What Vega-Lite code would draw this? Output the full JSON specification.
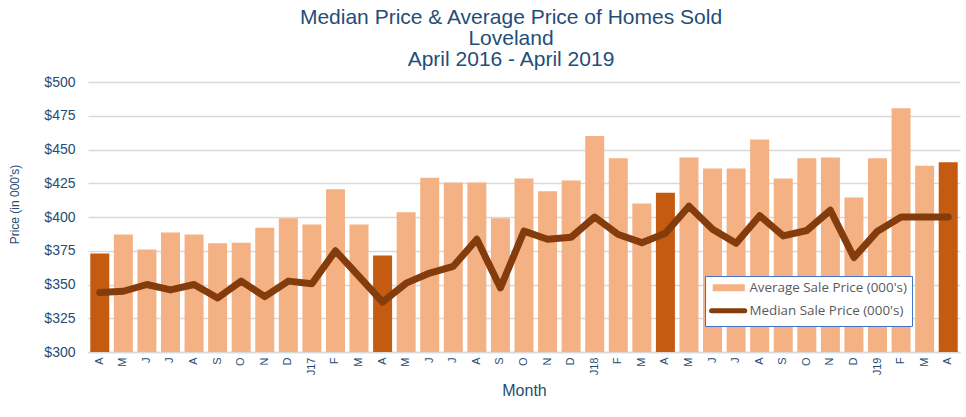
{
  "$schema": "https://vega.github.io/schema/vega-lite/v6.json",
  "width": 872,
  "height": 270,
  "autosize": {"type": "none"},
  "padding": {"left": 88, "top": 82, "right": 6, "bottom": 65},
  "background": "white",
  "title": {
    "text": ["Median Price & Average Price of Homes Sold", "Loveland", "April 2016 - April 2019"],
    "font": "Liberation Sans",
    "fontSize": 21,
    "lineHeight": 21,
    "fontWeight": "normal",
    "color": "#1F4E79",
    "anchor": "middle",
    "dx": -13,
    "offset": 5
  },
  "config": {
    "view": {"stroke": null},
    "axis": {"labelFont": "Liberation Sans", "titleFont": "Liberation Sans", "labelColor": "#264C73", "titleColor": "#264C73"}
  },
  "data": {
    "values": [
      {"key": "01|A", "avg": 373, "median": 344, "hl": true},
      {"key": "02|M", "avg": 387, "median": 345, "hl": false},
      {"key": "03|J", "avg": 376, "median": 350, "hl": false},
      {"key": "04|J", "avg": 388.5, "median": 346, "hl": false},
      {"key": "05|A", "avg": 387, "median": 350, "hl": false},
      {"key": "06|S", "avg": 380.5, "median": 340, "hl": false},
      {"key": "07|O", "avg": 381, "median": 352.5, "hl": false},
      {"key": "08|N", "avg": 392, "median": 341, "hl": false},
      {"key": "09|D", "avg": 399, "median": 352.5, "hl": false},
      {"key": "10|J17", "avg": 394.5, "median": 350.5, "hl": false},
      {"key": "11|F", "avg": 420.5, "median": 375, "hl": false},
      {"key": "12|M", "avg": 394.5, "median": 356, "hl": false},
      {"key": "13|A", "avg": 371.5, "median": 337, "hl": true},
      {"key": "14|M", "avg": 403.5, "median": 351, "hl": false},
      {"key": "15|J", "avg": 429, "median": 358.5, "hl": false},
      {"key": "16|J", "avg": 425.5, "median": 363.5, "hl": false},
      {"key": "17|A", "avg": 425.5, "median": 383.5, "hl": false},
      {"key": "18|S", "avg": 399, "median": 347.5, "hl": false},
      {"key": "19|O", "avg": 428.5, "median": 389.5, "hl": false},
      {"key": "20|N", "avg": 419, "median": 383.5, "hl": false},
      {"key": "21|D", "avg": 427, "median": 385, "hl": false},
      {"key": "22|J18", "avg": 460, "median": 400, "hl": false},
      {"key": "23|F", "avg": 443.5, "median": 387, "hl": false},
      {"key": "24|M", "avg": 410, "median": 381, "hl": false},
      {"key": "25|A", "avg": 418, "median": 388, "hl": true},
      {"key": "26|M", "avg": 444, "median": 408, "hl": false},
      {"key": "27|J", "avg": 436, "median": 391, "hl": false},
      {"key": "28|J", "avg": 436, "median": 380.5, "hl": false},
      {"key": "29|A", "avg": 457.5, "median": 401, "hl": false},
      {"key": "30|S", "avg": 428.5, "median": 386, "hl": false},
      {"key": "31|O", "avg": 443.5, "median": 390, "hl": false},
      {"key": "32|N", "avg": 444, "median": 405, "hl": false},
      {"key": "33|D", "avg": 414.5, "median": 370, "hl": false},
      {"key": "34|J19", "avg": 443.5, "median": 389.5, "hl": false},
      {"key": "35|F", "avg": 480.5, "median": 400, "hl": false},
      {"key": "36|M", "avg": 438, "median": 400, "hl": false},
      {"key": "37|A", "avg": 440.5, "median": 400, "hl": true}
    ]
  },
  "encoding": {
    "x": {
      "field": "key",
      "type": "ordinal",
      "sort": null,
      "scale": {"paddingInner": 0.194, "paddingOuter": 0.097},
      "axis": {
        "title": "Month",
        "labelExpr": "split(datum.value, '|')[1]",
        "labelAngle": -90,
        "labelFontSize": 11,
        "labelPadding": 5,
        "ticks": false,
        "domainColor": "#D9D9D9",
        "domainWidth": 1.5,
        "titleFontSize": 16,
        "titleFontWeight": "normal",
        "titlePadding": 8
      }
    }
  },
  "layer": [
    {
      "mark": {"type": "bar"},
      "encoding": {
        "y": {
          "field": "avg",
          "type": "quantitative",
          "scale": {"domain": [300, 500], "nice": false, "zero": false},
          "axis": {
            "title": "Price (in 000's)",
            "values": [300, 325, 350, 375, 400, 425, 450, 475, 500],
            "labelExpr": "'$' + datum.value",
            "labelFontSize": 14,
            "labelPadding": 13,
            "labelOverlap": false,
            "domain": false,
            "ticks": false,
            "gridColor": "#D9D9D9",
            "gridWidth": 1.5,
            "titleFontSize": 12,
            "titleFontWeight": "normal",
            "titlePadding": 22,
            "titleY": 122
          }
        },
        "y2": {"datum": 300},
        "color": {
          "condition": {"test": "datum.hl", "value": "#C55A11"},
          "datum": "Average Sale Price (000's)",
          "scale": {"domain": ["Average Sale Price (000's)", "Median Sale Price (000's)"], "range": ["#F4B183", "#843C0C"]},
          "legend": {
            "title": null,
            "orient": "none",
            "legendX": 617,
            "legendY": 194,
            "direction": "vertical",
            "padding": 5,
            "strokeColor": "#4472C4",
            "fillColor": "white",
            "labelFont": "Open Sans",
            "labelFontSize": 13.4,
            "labelColor": "#595959",
            "labelOffset": 26,
            "symbolSize": 289,
            "rowPadding": 5,
            "symbolOpacity": 1,
            "encode": {
              "symbols": {
                "update": {
                  "shape": {"signal": "datum.index === 1 ? 'M-0.6,0H3.3' : 'M-0.47,-0.41H3.3V0.41H-0.47Z'"},
                  "fill": {"signal": "datum.index === 1 ? 'transparent' : '#F4B183'"},
                  "stroke": {"signal": "datum.index === 1 ? '#843C0C' : 'transparent'"},
                  "strokeWidth": {"signal": "datum.index === 1 ? 5 : 0"},
                  "strokeCap": {"value": "round"},
                  "opacity": {"value": 1}
                }
              }
            }
          }
        }
      }
    },
    {
      "mark": {"type": "line", "strokeWidth": 7, "strokeCap": "round", "strokeJoin": "round"},
      "encoding": {
        "y": {
          "field": "median",
          "type": "quantitative",
          "scale": {"domain": [300, 500], "nice": false, "zero": false},
          "axis": {
            "title": "Price (in 000's)",
            "values": [300, 325, 350, 375, 400, 425, 450, 475, 500],
            "labelExpr": "'$' + datum.value",
            "labelFontSize": 14,
            "labelPadding": 13,
            "labelOverlap": false,
            "domain": false,
            "ticks": false,
            "gridColor": "#D9D9D9",
            "gridWidth": 1.5,
            "titleFontSize": 12,
            "titleFontWeight": "normal",
            "titlePadding": 22,
            "titleY": 122
          }
        },
        "color": {"datum": "Median Sale Price (000's)"}
      }
    }
  ]
}
